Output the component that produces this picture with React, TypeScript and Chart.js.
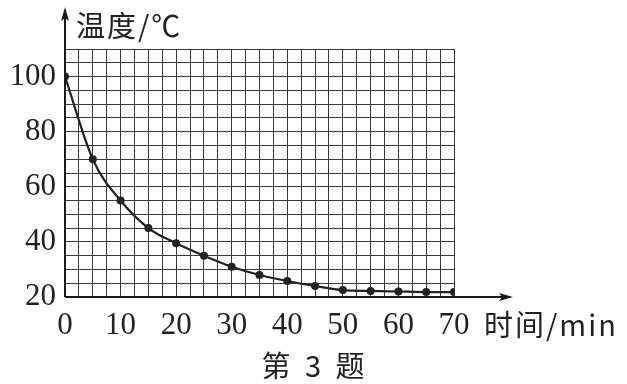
import React, { useEffect, useRef } from 'react';
import { Chart, registerables } from 'chart.js';

Chart.register(...registerables);

const timeMin = [0, 5, 10, 15, 20, 25, 30, 35, 40, 45, 50, 55, 60, 65, 70];
const tempC = [100, 70, 55, 45, 39.5, 35, 31, 28, 25.8, 24, 22.5, 22.2, 22, 21.8, 21.8];
const xTickLabels = [0, 10, 20, 30, 40, 50, 60, 70];
const yTickLabels = [20, 40, 60, 80, 100];
const yAxisTitle = '温度/℃';
const xAxisTitle = '时间/min';
const caption = '第 3 题';

const SERIF = '"Liberation Serif", "DejaVu Serif", serif';
const CJK = '"Noto Sans CJK SC", "Noto Sans", sans-serif';

const axisPlugin = {
  id: 'axisDecor',
  afterDraw(chart: any) {
    const { ctx, chartArea } = chart;
    const x0 = chartArea.left;
    const y0 = chartArea.bottom;
    ctx.save();
    ctx.strokeStyle = '#1a1a1a';
    ctx.fillStyle = '#1a1a1a';
    ctx.lineWidth = 2;
    // y axis with arrow
    ctx.beginPath();
    ctx.moveTo(x0, y0);
    ctx.lineTo(x0, 14);
    ctx.stroke();
    ctx.beginPath();
    ctx.moveTo(x0, 7);
    ctx.lineTo(x0 - 4, 21);
    ctx.lineTo(x0, 18);
    ctx.lineTo(x0 + 4, 21);
    ctx.closePath();
    ctx.fill();
    // x axis with arrow
    ctx.beginPath();
    ctx.moveTo(x0, y0);
    ctx.lineTo(506, y0);
    ctx.stroke();
    ctx.beginPath();
    ctx.moveTo(513, y0);
    ctx.lineTo(499, y0 - 4);
    ctx.lineTo(502, y0);
    ctx.lineTo(499, y0 + 4);
    ctx.closePath();
    ctx.fill();
    // texts
    ctx.fillStyle = '#222';
    ctx.textBaseline = 'middle';
    ctx.textAlign = 'left';
    ctx.font = `29px ${CJK}`;
    (ctx as any).letterSpacing = '2px';
    ctx.fillText(yAxisTitle, 76, 26);
    ctx.fillText(xAxisTitle, 484, 325);
    ctx.textAlign = 'center';
    (ctx as any).letterSpacing = '4px';
    ctx.fillText(caption, 315, 366);
    ctx.restore();
  },
};

export default function App() {
  const ref = useRef<HTMLCanvasElement | null>(null);
  useEffect(() => {
    if (!ref.current) return;
    const chart = new Chart(ref.current, {
      type: 'line',
      data: {
        datasets: [
          {
            data: timeMin.map((t, i) => ({ x: t, y: tempC[i] })),
            borderColor: '#222',
            backgroundColor: '#222',
            borderWidth: 2.2,
            pointRadius: 4,
            pointBackgroundColor: '#222',
            pointBorderWidth: 0,
            cubicInterpolationMode: 'monotone',
            fill: false,
          },
        ],
      },
      options: {
        animation: false,
        responsive: false,
        maintainAspectRatio: false,
        layout: { padding: { top: 49, right: 173, left: 0, bottom: 0 } },
        plugins: {
          legend: { display: false },
          tooltip: { enabled: false },
          title: { display: false },
        },
        scales: {
          x: {
            type: 'linear',
            min: 0,
            max: 70,
            afterFit: (s: any) => {
              s.height = 87;
            },
            ticks: {
              stepSize: 2.5,
              autoSkip: false,
              maxRotation: 0,
              padding: 10,
              color: '#222',
              font: { family: SERIF, size: 31 },
              callback: (v: any) => (xTickLabels.includes(Number(v)) ? String(v) : ''),
            },
            grid: { color: '#3a3a3a', lineWidth: 1, drawTicks: false },
            border: { display: false },
          },
          y: {
            type: 'linear',
            min: 20,
            max: 110,
            afterFit: (s: any) => {
              s.width = 65;
            },
            ticks: {
              stepSize: 5,
              autoSkip: false,
              padding: 9,
              color: '#222',
              font: { family: SERIF, size: 31 },
              callback: (v: any) => (yTickLabels.includes(Number(v)) ? String(v) : ''),
            },
            grid: { color: '#3a3a3a', lineWidth: 1, drawTicks: false },
            border: { display: false },
          },
        },
      },
      plugins: [axisPlugin],
    });
    return () => chart.destroy();
  }, []);
  return (
    <div style={{ position: 'fixed', left: 0, top: 0, width: 627, height: 384, background: '#fff' }}>
      <canvas ref={ref} width={627} height={384} style={{ width: 627, height: 384 }} />
    </div>
  );
}
